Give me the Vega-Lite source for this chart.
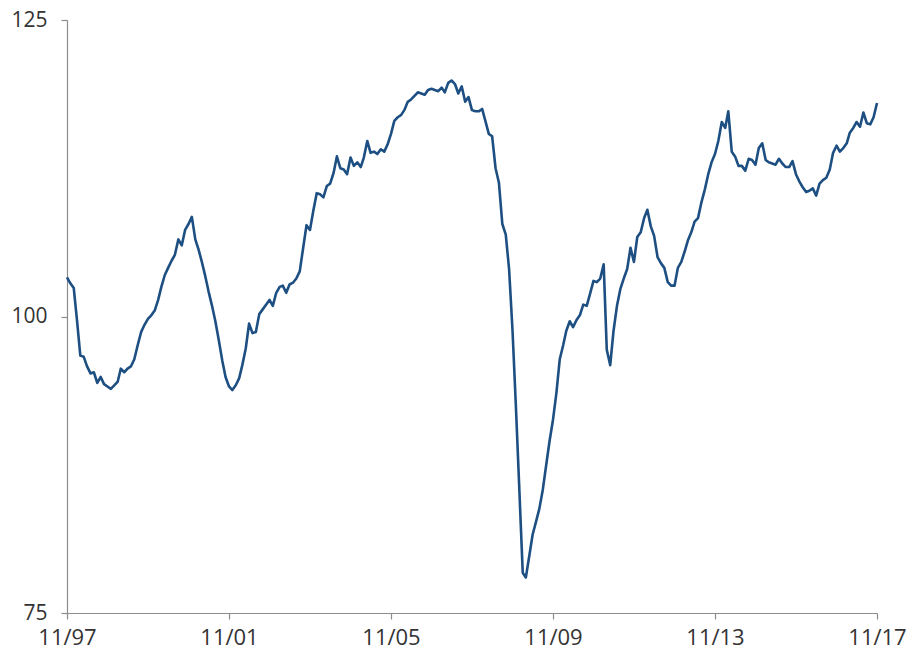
{
  "$schema": "https://vega.github.io/schema/vega-lite/v6.json",
  "width": 810,
  "height": 593,
  "autosize": {"type": "none"},
  "padding": {"left": 67, "top": 20, "right": 30, "bottom": 38},
  "background": "white",
  "config": {"view": {"stroke": null}},
  "data": {"values": [
    {"d":"1997-11-01","v":103.3},{"d":"1997-12-01","v":102.8},
    {"d":"1998-01-01","v":102.4},{"d":"1998-02-01","v":99.5},{"d":"1998-03-01","v":96.7},{"d":"1998-04-01","v":96.6},{"d":"1998-05-01","v":95.8},{"d":"1998-06-01","v":95.2},{"d":"1998-07-01","v":95.3},{"d":"1998-08-01","v":94.4},{"d":"1998-09-01","v":94.9},{"d":"1998-10-01","v":94.3},{"d":"1998-11-01","v":94.1},{"d":"1998-12-01","v":93.9},
    {"d":"1999-01-01","v":94.2},{"d":"1999-02-01","v":94.5},{"d":"1999-03-01","v":95.6},{"d":"1999-04-01","v":95.3},{"d":"1999-05-01","v":95.6},{"d":"1999-06-01","v":95.8},{"d":"1999-07-01","v":96.4},{"d":"1999-08-01","v":97.6},{"d":"1999-09-01","v":98.7},{"d":"1999-10-01","v":99.3},{"d":"1999-11-01","v":99.8},{"d":"1999-12-01","v":100.1},
    {"d":"2000-01-01","v":100.5},{"d":"2000-02-01","v":101.4},{"d":"2000-03-01","v":102.5},{"d":"2000-04-01","v":103.5},{"d":"2000-05-01","v":104.1},{"d":"2000-06-01","v":104.7},{"d":"2000-07-01","v":105.2},{"d":"2000-08-01","v":106.5},{"d":"2000-09-01","v":106.0},{"d":"2000-10-01","v":107.3},{"d":"2000-11-01","v":107.8},{"d":"2000-12-01","v":108.4},
    {"d":"2001-01-01","v":106.5},{"d":"2001-02-01","v":105.6},{"d":"2001-03-01","v":104.6},{"d":"2001-04-01","v":103.4},{"d":"2001-05-01","v":102.1},{"d":"2001-06-01","v":100.9},{"d":"2001-07-01","v":99.6},{"d":"2001-08-01","v":98.0},{"d":"2001-09-01","v":96.3},{"d":"2001-10-01","v":94.9},{"d":"2001-11-01","v":94.1},{"d":"2001-12-01","v":93.8},
    {"d":"2002-01-01","v":94.2},{"d":"2002-02-01","v":94.8},{"d":"2002-03-01","v":95.9},{"d":"2002-04-01","v":97.3},{"d":"2002-05-01","v":99.4},{"d":"2002-06-01","v":98.6},{"d":"2002-07-01","v":98.7},{"d":"2002-08-01","v":100.2},{"d":"2002-09-01","v":100.6},{"d":"2002-10-01","v":101.0},{"d":"2002-11-01","v":101.4},{"d":"2002-12-01","v":100.9},
    {"d":"2003-01-01","v":102.0},{"d":"2003-02-01","v":102.5},{"d":"2003-03-01","v":102.6},{"d":"2003-04-01","v":102.0},{"d":"2003-05-01","v":102.7},{"d":"2003-06-01","v":102.85},{"d":"2003-07-01","v":103.2},{"d":"2003-08-01","v":103.8},{"d":"2003-09-01","v":105.8},{"d":"2003-10-01","v":107.7},{"d":"2003-11-01","v":107.3},{"d":"2003-12-01","v":108.9},
    {"d":"2004-01-01","v":110.4},{"d":"2004-02-01","v":110.3},{"d":"2004-03-01","v":110.05},{"d":"2004-04-01","v":111.0},{"d":"2004-05-01","v":111.2},{"d":"2004-06-01","v":112.1},{"d":"2004-07-01","v":113.5},{"d":"2004-08-01","v":112.5},{"d":"2004-09-01","v":112.4},{"d":"2004-10-01","v":112.0},{"d":"2004-11-01","v":113.4},{"d":"2004-12-01","v":112.7},
    {"d":"2005-01-01","v":113.0},{"d":"2005-02-01","v":112.6},{"d":"2005-03-01","v":113.4},{"d":"2005-04-01","v":114.8},{"d":"2005-05-01","v":113.8},{"d":"2005-06-01","v":113.9},{"d":"2005-07-01","v":113.7},{"d":"2005-08-01","v":114.1},{"d":"2005-09-01","v":113.9},{"d":"2005-10-01","v":114.5},{"d":"2005-11-01","v":115.4},{"d":"2005-12-01","v":116.5},
    {"d":"2006-01-01","v":116.8},{"d":"2006-02-01","v":117.0},{"d":"2006-03-01","v":117.4},{"d":"2006-04-01","v":118.1},{"d":"2006-05-01","v":118.3},{"d":"2006-06-01","v":118.6},{"d":"2006-07-01","v":118.9},{"d":"2006-08-01","v":118.8},{"d":"2006-09-01","v":118.7},{"d":"2006-10-01","v":119.1},{"d":"2006-11-01","v":119.2},{"d":"2006-12-01","v":119.1},
    {"d":"2007-01-01","v":119.0},{"d":"2007-02-01","v":119.3},{"d":"2007-03-01","v":118.9},{"d":"2007-04-01","v":119.7},{"d":"2007-05-01","v":119.9},{"d":"2007-06-01","v":119.6},{"d":"2007-07-01","v":118.8},{"d":"2007-08-01","v":119.4},{"d":"2007-09-01","v":118.1},{"d":"2007-10-01","v":118.5},{"d":"2007-11-01","v":117.4},{"d":"2007-12-01","v":117.3},
    {"d":"2008-01-01","v":117.3},{"d":"2008-02-01","v":117.5},{"d":"2008-03-01","v":116.5},{"d":"2008-04-01","v":115.4},{"d":"2008-05-01","v":115.2},{"d":"2008-06-01","v":112.5},{"d":"2008-07-01","v":111.3},{"d":"2008-08-01","v":107.8},{"d":"2008-09-01","v":106.9},{"d":"2008-10-01","v":104.0},{"d":"2008-11-01","v":98.8},{"d":"2008-12-01","v":92.5},
    {"d":"2009-01-01","v":85.5},{"d":"2009-02-01","v":78.4},{"d":"2009-03-01","v":78.0},{"d":"2009-04-01","v":79.8},{"d":"2009-05-01","v":81.6},{"d":"2009-06-01","v":82.7},{"d":"2009-07-01","v":83.8},{"d":"2009-08-01","v":85.4},{"d":"2009-09-01","v":87.5},{"d":"2009-10-01","v":89.5},{"d":"2009-11-01","v":91.3},{"d":"2009-12-01","v":93.5},
    {"d":"2010-01-01","v":96.4},{"d":"2010-02-01","v":97.6},{"d":"2010-03-01","v":98.8},{"d":"2010-04-01","v":99.6},{"d":"2010-05-01","v":99.1},{"d":"2010-06-01","v":99.7},{"d":"2010-07-01","v":100.1},{"d":"2010-08-01","v":101.0},{"d":"2010-09-01","v":100.9},{"d":"2010-10-01","v":101.9},{"d":"2010-11-01","v":103.0},{"d":"2010-12-01","v":102.9},
    {"d":"2011-01-01","v":103.2},{"d":"2011-02-01","v":104.4},{"d":"2011-03-01","v":97.2},{"d":"2011-04-01","v":95.9},{"d":"2011-05-01","v":98.8},{"d":"2011-06-01","v":100.9},{"d":"2011-07-01","v":102.3},{"d":"2011-08-01","v":103.2},{"d":"2011-09-01","v":104.0},{"d":"2011-10-01","v":105.8},{"d":"2011-11-01","v":104.6},{"d":"2011-12-01","v":106.7},
    {"d":"2012-01-01","v":107.1},{"d":"2012-02-01","v":108.3},{"d":"2012-03-01","v":109.0},{"d":"2012-04-01","v":107.6},{"d":"2012-05-01","v":106.8},{"d":"2012-06-01","v":105.0},{"d":"2012-07-01","v":104.5},{"d":"2012-08-01","v":104.1},{"d":"2012-09-01","v":102.9},{"d":"2012-10-01","v":102.6},{"d":"2012-11-01","v":102.6},{"d":"2012-12-01","v":104.1},
    {"d":"2013-01-01","v":104.6},{"d":"2013-02-01","v":105.5},{"d":"2013-03-01","v":106.4},{"d":"2013-04-01","v":107.1},{"d":"2013-05-01","v":108.0},{"d":"2013-06-01","v":108.3},{"d":"2013-07-01","v":109.6},{"d":"2013-08-01","v":110.7},{"d":"2013-09-01","v":112.0},{"d":"2013-10-01","v":113.0},{"d":"2013-11-01","v":113.7},{"d":"2013-12-01","v":114.8},
    {"d":"2014-01-01","v":116.4},{"d":"2014-02-01","v":115.9},{"d":"2014-03-01","v":117.3},{"d":"2014-04-01","v":113.9},{"d":"2014-05-01","v":113.5},{"d":"2014-06-01","v":112.7},{"d":"2014-07-01","v":112.7},{"d":"2014-08-01","v":112.3},{"d":"2014-09-01","v":113.3},{"d":"2014-10-01","v":113.2},{"d":"2014-11-01","v":112.8},{"d":"2014-12-01","v":114.2},
    {"d":"2015-01-01","v":114.6},{"d":"2015-02-01","v":113.2},{"d":"2015-03-01","v":113.0},{"d":"2015-04-01","v":112.9},{"d":"2015-05-01","v":112.8},{"d":"2015-06-01","v":113.3},{"d":"2015-07-01","v":112.9},{"d":"2015-08-01","v":112.6},{"d":"2015-09-01","v":112.6},{"d":"2015-10-01","v":113.1},{"d":"2015-11-01","v":112.0},{"d":"2015-12-01","v":111.4},
    {"d":"2016-01-01","v":110.9},{"d":"2016-02-01","v":110.5},{"d":"2016-03-01","v":110.6},{"d":"2016-04-01","v":110.8},{"d":"2016-05-01","v":110.2},{"d":"2016-06-01","v":111.2},{"d":"2016-07-01","v":111.5},{"d":"2016-08-01","v":111.7},{"d":"2016-09-01","v":112.4},{"d":"2016-10-01","v":113.8},{"d":"2016-11-01","v":114.4},{"d":"2016-12-01","v":113.9},
    {"d":"2017-01-01","v":114.2},{"d":"2017-02-01","v":114.6},{"d":"2017-03-01","v":115.5},{"d":"2017-04-01","v":115.9},{"d":"2017-05-01","v":116.4},{"d":"2017-06-01","v":116.0},{"d":"2017-07-01","v":117.2},{"d":"2017-08-01","v":116.3},{"d":"2017-09-01","v":116.2},{"d":"2017-10-01","v":116.8},{"d":"2017-11-01","v":118.0}
  ]},
  "mark": {"type": "line", "color": "#1d4f82", "strokeWidth": 2.6, "strokeJoin": "round"},
  "encoding": {
    "x": {
      "field": "d", "type": "temporal",
      "scale": {"type": "utc", "domain": [{"year": 1997, "month": 11, "date": 1, "utc": true}, {"year": 2017, "month": 11, "date": 1, "utc": true}], "nice": false},
      "axis": {
        "title": null,
        "values": [
          {"year": 1997, "month": 11, "date": 1, "utc": true},
          {"year": 2001, "month": 11, "date": 1, "utc": true},
          {"year": 2005, "month": 11, "date": 1, "utc": true},
          {"year": 2009, "month": 11, "date": 1, "utc": true},
          {"year": 2013, "month": 11, "date": 1, "utc": true},
          {"year": 2017, "month": 11, "date": 1, "utc": true}
        ],
        "labelExpr": "utcFormat(datum.value, '%m/%y')",
        "grid": false,
        "labelFlush": false,
        "labelOverlap": false,
        "labelBound": false,
        "labelFont": "Open Sans",
        "labelFontSize": 22,
        "labelColor": "#333333",
        "labelPadding": 8,
        "domainColor": "#8c8c8c",
        "domainWidth": 1.2,
        "tickColor": "#8c8c8c",
        "tickSize": 6,
        "tickWidth": 1.2
      }
    },
    "y": {
      "field": "v", "type": "quantitative",
      "scale": {"domain": [75, 125], "nice": false, "zero": false},
      "axis": {
        "title": null,
        "values": [75, 100, 125],
        "grid": false,
        "labelFont": "Open Sans",
        "labelFontSize": 21,
        "labelColor": "#333333",
        "labelPadding": 14,
        "domainColor": "#8c8c8c",
        "domainWidth": 1.2,
        "tickColor": "#8c8c8c",
        "tickSize": 6,
        "tickWidth": 1.2
      }
    }
  }
}
